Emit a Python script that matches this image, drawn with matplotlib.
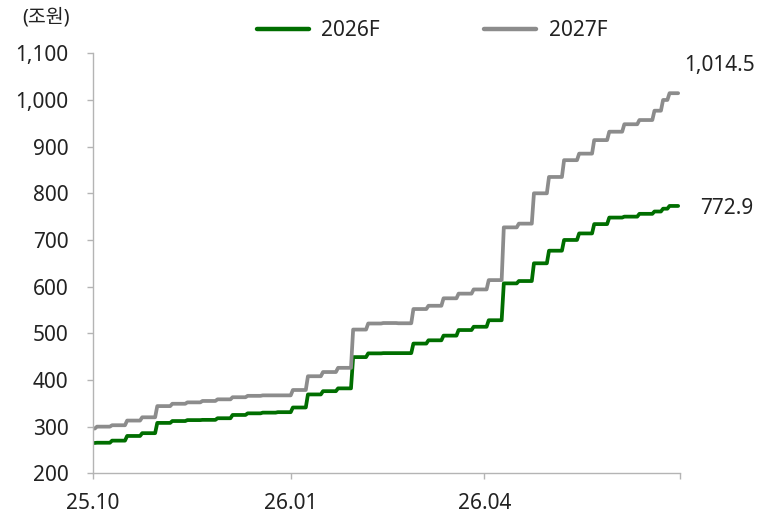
import numpy as np
import pandas as pd
import matplotlib
matplotlib.use('Agg')
import matplotlib.pyplot as plt
import matplotlib.dates as mdates

plt.rcParams['font.family'] = ['Noto Sans', 'Noto Sans CJK KR', 'DejaVu Sans']

# Dates at which the weekly consensus values change
change_dates = (['2025-10-01']
                + [d.strftime('%Y-%m-%d') for d in pd.date_range('2025-10-03', '2026-06-19', freq='7D')]
                + ['2026-06-23', '2026-06-26'])

series_2026 = [265, 265.5, 270, 280, 286, 308, 312, 314, 314.5, 318, 325, 328.5, 330, 331,
               341, 369, 376, 382, 449, 457, 457.5, 457.5, 478, 485, 495, 507, 514, 528,
               607, 612, 650, 677, 700, 714, 734, 748, 750, 756, 761, 767, 772.9]
series_2027 = [296, 300, 303, 313, 320, 344, 349, 352, 355, 358.5, 363, 366, 367, 367,
               378.5, 408, 417, 426, 508, 521, 522, 521.5, 552, 559, 575, 585, 594, 614,
               727, 735, 800, 835, 871, 885, 914, 932, 948, 957, 977, 1000, 1014.5]

start_date = '2025-10-01'
end_date = '2026-06-30'
xtick_dates = ['2025-10-01', '2026-01-01', '2026-04-01', '2026-07-01']
xtick_labels = ['25.10', '26.01', '26.04', '']
yticks = [200, 300, 400, 500, 600, 700, 800, 900, 1000, 1100]
labels = ['2026F', '2027F']
colors = ['#006e00', '#8c8c8c']
end_labels = ['772.9', '1,014.5']

# expand to a daily step series
days = pd.date_range(start_date, end_date, freq='D')
cd = pd.to_datetime(change_dates)
idx = np.searchsorted(cd.values, days.values, side='right') - 1

fig = plt.figure(figsize=(7.61, 5.12), dpi=100)
ax = fig.add_axes([92.7 / 761, 1 - 473.3 / 512, (680.3 - 92.7) / 761, (473.3 - 53.3) / 512])

lines = []
for vals, lab, col in zip([series_2026, series_2027], labels, colors):
    y = np.asarray(vals)[idx]
    ln, = ax.plot(days, y, color=col, lw=2.7, label=lab, solid_joinstyle='round',
                  solid_capstyle='round')
    lines.append(ln)

ax.set_xlim(pd.Timestamp(xtick_dates[0]), pd.Timestamp(xtick_dates[-1]))
ax.set_ylim(200, 1100)
ax.set_yticks(yticks)
ax.set_yticklabels([f'{v:,}' for v in yticks])
ax.set_xticks(pd.to_datetime(xtick_dates))
ax.set_xticklabels(xtick_labels)

for s in ['top', 'right']:
    ax.spines[s].set_visible(False)
for s in ['left', 'bottom']:
    ax.spines[s].set_color('#b4b4b4')
    ax.spines[s].set_linewidth(1.0)
ax.tick_params(axis='y', direction='out', length=4.5, width=1.0, color='#b4b4b4',
               labelsize=15, labelcolor='#222222', pad=13)
ax.tick_params(axis='x', direction='out', length=4.5, width=1.0, color='#b4b4b4',
               labelsize=15, labelcolor='#222222', pad=10)

# end-value annotations
last_day = days[-1]
ax.annotate(end_labels[1], xy=(last_day, series_2027[-1]), xytext=(4, 20),
            textcoords='offset points', ha='left', va='center', fontsize=15, color='#222222')
ax.annotate(end_labels[0], xy=(last_day, series_2026[-1]), xytext=(16, -2),
            textcoords='offset points', ha='left', va='center', fontsize=15, color='#222222')

fig.text(22 / 761, 1 - 18 / 512, '(조원)', fontsize=14, color='#222222', ha='left', va='center')

leg = fig.legend(handles=lines, labels=labels, loc='center', bbox_to_anchor=(432 / 761, 1 - 31 / 512),
                 ncol=2, frameon=False, fontsize=15, handlelength=2.5, handletextpad=0.6,
                 columnspacing=5.0)
for l in leg.get_lines():
    l.set_linewidth(3.2)
for t in leg.get_texts():
    t.set_color('#222222')

fig.savefig('out.png', dpi=100)
